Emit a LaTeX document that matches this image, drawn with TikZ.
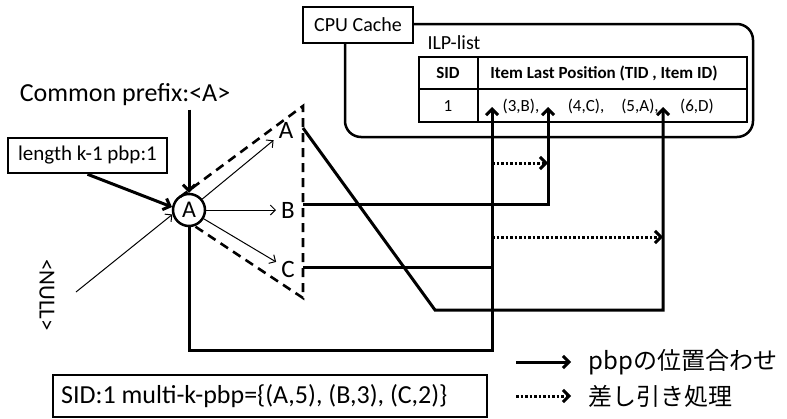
\documentclass[tikz,border=0pt]{standalone}
\usepackage{fontspec}
\setmainfont{Carlito}
\newfontfamily\jpfont{Noto Sans CJK JP}
\usetikzlibrary{arrows.meta}

\tikzset{
  box/.style={draw, line width=2.5pt, inner sep=0pt},
  lbl/.style={inner sep=5pt, font=\fontsize{25}{28}\selectfont},
  pbpline/.style={line width=3pt},
  pbparrow/.style={pbpline, -{Straight Barb[length=6pt,width=12pt]}},
  subarrow/.style={line width=3pt, dash pattern=on 2.5pt off 2pt, -{Straight Barb[length=6pt,width=12pt]}},
  thinarrow/.style={line width=1pt, -{Straight Barb[length=5pt,width=10pt]}},
  tri/.style={line width=2.6pt, dash pattern=on 9pt off 6pt},
  cell/.style={font=\fontsize{17}{20}\selectfont}
}

\begin{document}
\begin{tikzpicture}[x=1pt,y=-1pt]
\useasboundingbox (0,0) rectangle (787,418);

% CPU cache with the ILP-list
\draw[line width=2.5pt, rounded corners=16] (345,24) rectangle (753,137);
\node[box, fill=white, minimum width=110, minimum height=36, font=\fontsize{20}{24}\selectfont] (cache) at (358,25) {CPU Cache};
\node[anchor=west, font=\fontsize{20}{24}\selectfont] (ilp) at (424,43) {ILP-list};
\draw[line width=1.5pt] (419,57) rectangle (747,122);
\draw[line width=1.5pt] (419,89) -- (747,89);
\draw[line width=1.5pt] (478,57) -- (478,122);
\node[cell] (hsid) at (448,73) {\bfseries SID};
\node[cell] (hpos) at (604,73) {\bfseries Item Last Position (TID , Item ID)};
\node[cell] (rsid) at (448,106) {1};
\node[cell] (p3b) at (521,106) {(3,B),};
\node[cell] (p4c) at (586,106) {(4,C),};
\node[cell] (p5a) at (640,106) {(5,A),};
\node[cell] (p6d) at (697,106) {(6,D)};
\coordinate (tgt1) at (492,107);
\coordinate (tgt2) at (548,107);
\coordinate (tgt3) at (663,107);

% prefix tree
\node[draw, circle, line width=2.5pt, minimum size=32, inner sep=0pt, font=\fontsize{24}{26}\selectfont] (root) at (189,210) {A};
\node[lbl] (la) at (286,130) {A};
\node[lbl] (lb) at (288,210) {B};
\node[lbl] (lc) at (288,269) {C};
\coordinate (ttop) at (303,106);
\coordinate (tbot) at (303,298);
\draw[tri] (180,197) -- (ttop) -- (tbot) -- (193,225);

\node[font=\fontsize{26}{30}\selectfont] (prefix) at (125,95) {Common prefix:<A>};
\node[box, minimum width=159, minimum height=35, font=\fontsize{21}{24}\selectfont] (lenbox) at (87.5,155.5) {length k-1 pbp:1};
\node[rotate=-90, font=\fontsize{23}{26}\selectfont] (nul) at (47,295) {<NULL>};
\coordinate (nulend) at (76,292);

\draw[pbparrow] (prefix.south -| root.north) -- (root.north);
\draw[pbparrow] (lenbox.south) -- (root.170);
\draw[thinarrow] (nulend) -- (root.195);
\draw[thinarrow] (root) -- (la);
\draw[thinarrow] (root) -- (lb);
\draw[thinarrow] (root) -- (lc);

% connectors to the ILP-list
\coordinate (outa) at (303,128);
\coordinate (outb) at (303,204);
\coordinate (outc) at (303,267);
\coordinate (benda) at (435,310);
\coordinate (bendr) at (189,350);
\draw[pbparrow] (outa) -- (benda) -| (tgt3);
\draw[pbparrow] (outb) -| (tgt2);
\draw[pbpline] (outc) -- (outc -| tgt1);
\draw[pbparrow] (root.south) -- (bendr) -| (tgt1);
\coordinate (sub1) at (492,163);
\coordinate (sub2) at (492,237);
\draw[subarrow] (sub1) -- (sub1 -| tgt2);
\draw[subarrow] (sub2) -- (sub2 -| tgt3);

% result and legend
\node[box, minimum width=434, minimum height=42] (result) at (270,396) {};
\node[anchor=west, font=\fontsize{26}{30}\selectfont] (restext) at (result.west) {~SID:1 multi-k-pbp=\{(A,5), (B,3), (C,2)\}};
\coordinate (lg1) at (516,362);
\coordinate (lg2) at (516,396);
\node[anchor=west, font=\fontsize{24}{28}\jpfont] (lgt1) at (585,362) {pbpの位置合わせ};
\node[anchor=west, font=\fontsize{24}{28}\jpfont] (lgt2) at (585,396) {差し引き処理};
\draw[pbparrow] (lg1) -- ([xshift=-14pt]lg1 -| lgt1.west);
\draw[subarrow] (lg2) -- ([xshift=-14pt]lg2 -| lgt2.west);
\end{tikzpicture}
\end{document}
